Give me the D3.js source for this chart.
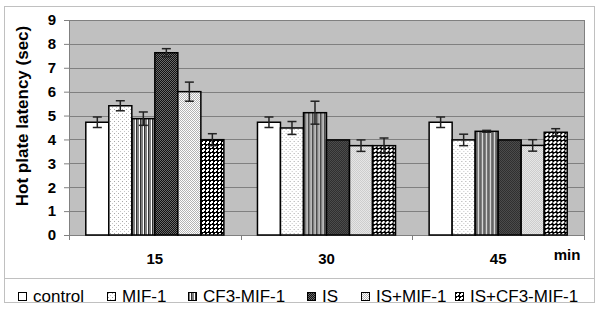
<!DOCTYPE html>
<html lang="en">
<head>
<meta charset="UTF-8">
<title>Hot plate latency</title>
<script src="https://d3js.org/d3.v7.min.js"></script>
<style>
body { margin: 0; background: #fff; }
text { font-family: "Liberation Sans", Arial, sans-serif; }
</style>
</head>
<body>
<div id="chart"></div>
<script>
// data
var times = ["15", "30", "45"]
var treatments = ["control", "MIF-1", "CF3-MIF-1", "IS", "IS+MIF-1", "IS+CF3-MIF-1"]
var mean15 = [4.72, 5.41, 4.87, 7.63, 6.0, 3.99]
var mean30 = [4.72, 4.48, 5.12, 3.98, 3.74, 3.74]
var mean45 = [4.72, 3.98, 4.34, 3.98, 3.75, 4.3]
var err15 = [0.22, 0.21, 0.28, 0.17, 0.4, 0.25]
var err30 = [0.22, 0.27, 0.48, 0, 0.24, 0.32]
var err45 = [0.22, 0.24, 0.04, 0, 0.24, 0.15]
var yTicks = [0, 1, 2, 3, 4, 5, 6, 7, 8, 9]

var means = [mean15, mean30, mean45]
var errs = [err15, err30, err45]
var fills = ["#fff", "url(#p-mif)", "url(#p-cf3)", "url(#p-is)", "url(#p-ismif)", "url(#p-iscf3)"]

var width = 600, height = 317
var plotL = 69, plotR = 584, plotT = 20, plotB = 235

var svg = d3.select("#chart").append("svg")
  .attr("width", width)
  .attr("height", height)

// fill patterns
var defs = svg.append("defs")
function pattern(id, w, h) {
  return defs.append("pattern").attr("id", id)
    .attr("patternUnits", "userSpaceOnUse")
    .attr("width", w).attr("height", h)
}
function px(p, x, y, w, h, c) {
  p.append("rect").attr("x", x).attr("y", y).attr("width", w).attr("height", h)
    .attr("fill", c).attr("shape-rendering", "crispEdges")
}
var p = pattern("p-mif", 4, 4)
px(p, 0, 0, 4, 4, "#fff"); px(p, 1, 1, 1, 1, "#a8a8a8"); px(p, 3, 3, 1, 1, "#c8c8c8")
p = pattern("p-cf3", 4, 4)
px(p, 0, 0, 4, 4, "#fff"); px(p, 0, 0, 2, 4, "#808080"); px(p, 3, 0, 1, 4, "#303030")
p = pattern("p-is", 2, 2)
px(p, 0, 0, 2, 2, "#111"); px(p, 1, 0, 1, 1, "#6a6a6a"); px(p, 0, 1, 1, 1, "#6a6a6a")
p = pattern("p-ismif", 2, 2)
px(p, 0, 0, 2, 2, "#fff"); px(p, 1, 0, 1, 1, "#b4b4b4"); px(p, 0, 1, 1, 1, "#b4b4b4")
p = pattern("p-iscf3", 4, 4)
px(p, 0, 0, 4, 4, "#000"); px(p, 1, 1, 3, 3, "#fff"); px(p, 1, 1, 1, 1, "#000"); px(p, 3, 3, 1, 1, "#000")

// outer frame and legend box
svg.append("rect").attr("x", 4.5).attr("y", 6.5).attr("width", 590).attr("height", 296)
  .attr("fill", "#fff").attr("stroke", "#c0c0c0")
svg.append("line").attr("x1", 4.5).attr("x2", 594.5).attr("y1", 278.5).attr("y2", 278.5)
  .attr("stroke", "#c0c0c0")

// scales
var x0 = d3.scaleBand().domain(times).range([plotL, plotR])
var x1 = d3.scaleBand().domain(treatments).range([0, x0.bandwidth()])
  .paddingInner(0).paddingOuter(0.73)
var y = d3.scaleLinear().domain([0, 9]).range([plotB, plotT])

// plot area
svg.append("rect").attr("x", plotL).attr("y", plotT)
  .attr("width", plotR - plotL).attr("height", plotB - plotT)
  .attr("fill", "#c0c0c0")

svg.append("g").selectAll("line").data(yTicks.slice(1)).join("line")
  .attr("x1", plotL).attr("x2", plotR)
  .attr("y1", function(d) { return Math.round(y(d)) + 0.5 })
  .attr("y2", function(d) { return Math.round(y(d)) + 0.5 })
  .attr("stroke", "#808080").attr("stroke-width", 1.2)

svg.append("line").attr("x1", plotR + 0.5).attr("x2", plotR + 0.5)
  .attr("y1", plotT).attr("y2", plotB).attr("stroke", "#808080")

// y axis
var yAxis = svg.append("g").attr("transform", "translate(" + plotL + ",0)")
  .call(d3.axisLeft(y).tickValues(yTicks).tickSize(5).tickPadding(8).tickFormat(d3.format("d")))
yAxis.select(".domain").attr("stroke", "#808080")
yAxis.selectAll(".tick line").attr("stroke", "#808080")
yAxis.selectAll("text").attr("font-size", 15).attr("font-weight", "bold")
  .attr("fill", "#000").style("font-family", "'Liberation Sans', Arial, sans-serif")

// x axis
var xAxis = svg.append("g").attr("transform", "translate(0," + plotB + ")")
xAxis.append("line").attr("x1", plotL).attr("x2", plotR).attr("y1", 0.5).attr("y2", 0.5)
  .attr("stroke", "#808080")
xAxis.selectAll(".sep").data(times.concat(["end"])).join("line").attr("class", "sep")
  .attr("x1", function(d, i) { return Math.round(plotL + i * x0.bandwidth()) + 0.5 })
  .attr("x2", function(d, i) { return Math.round(plotL + i * x0.bandwidth()) + 0.5 })
  .attr("y1", 0).attr("y2", 5).attr("stroke", "#808080")
xAxis.selectAll(".lab").data(times).join("text").attr("class", "lab")
  .attr("x", function(d) { return x0(d) + x0.bandwidth() / 2 })
  .attr("y", 28.5).attr("text-anchor", "middle")
  .attr("font-size", 15).attr("font-weight", "bold").text(function(d) { return d })

svg.append("text").attr("x", 567).attr("y", 260).attr("text-anchor", "middle")
  .attr("font-size", 15).attr("font-weight", "bold").text("min")

svg.append("text")
  .attr("transform", "translate(28,116) rotate(-90)")
  .attr("text-anchor", "middle").attr("font-size", 17).attr("font-weight", "bold")
  .text("Hot plate latency (sec)")

// bars
var groups = svg.append("g").selectAll("g").data(times).join("g")
  .attr("transform", function(d) { return "translate(" + x0(d) + ",0)" })

groups.selectAll("rect").data(function(d, gi) {
  return treatments.map(function(t, i) { return { t: t, i: i, v: means[gi][i], e: errs[gi][i] } })
}).join("rect")
  .attr("x", function(d) { return x1(d.t) })
  .attr("y", function(d) { return y(d.v) })
  .attr("width", x1.bandwidth())
  .attr("height", function(d) { return plotB - y(d.v) })
  .attr("fill", function(d) { return fills[d.i] })
  .attr("stroke", "#000").attr("stroke-width", 1.5)

// error bars
var eb = groups.selectAll("g.err").data(function(d, gi) {
  return treatments.map(function(t, i) { return { t: t, v: means[gi][i], e: errs[gi][i] } })
    .filter(function(d) { return d.e > 0 })
}).join("g").attr("class", "err")
  .attr("stroke", "#222").attr("stroke-width", 1.5)
eb.append("line")
  .attr("x1", function(d) { return x1(d.t) + x1.bandwidth() / 2 })
  .attr("x2", function(d) { return x1(d.t) + x1.bandwidth() / 2 })
  .attr("y1", function(d) { return y(d.v + d.e) })
  .attr("y2", function(d) { return y(d.v - d.e) })
eb.selectAll("line.cap").data(function(d) { return [d.v + d.e, d.v - d.e].map(function(v) { return { t: d.t, v: v } }) })
  .join("line").attr("class", "cap")
  .attr("x1", function(d) { return x1(d.t) + x1.bandwidth() / 2 - 4.5 })
  .attr("x2", function(d) { return x1(d.t) + x1.bandwidth() / 2 + 4.5 })
  .attr("y1", function(d) { return y(d.v) })
  .attr("y2", function(d) { return y(d.v) })

// legend
var legX = [18, 107, 188, 307, 361, 455]
var leg = svg.append("g").selectAll("g").data(treatments).join("g")
  .attr("transform", function(d, i) { return "translate(" + legX[i] + ",292)" })
leg.append("rect").attr("x", 0.5).attr("y", 0.5).attr("width", 8).attr("height", 8)
  .attr("fill", function(d, i) { return fills[i] }).attr("stroke", "#000")
leg.append("text").attr("x", 15).attr("y", 9.5).attr("font-size", 17)
  .text(function(d) { return d })
</script>
</body>
</html>
